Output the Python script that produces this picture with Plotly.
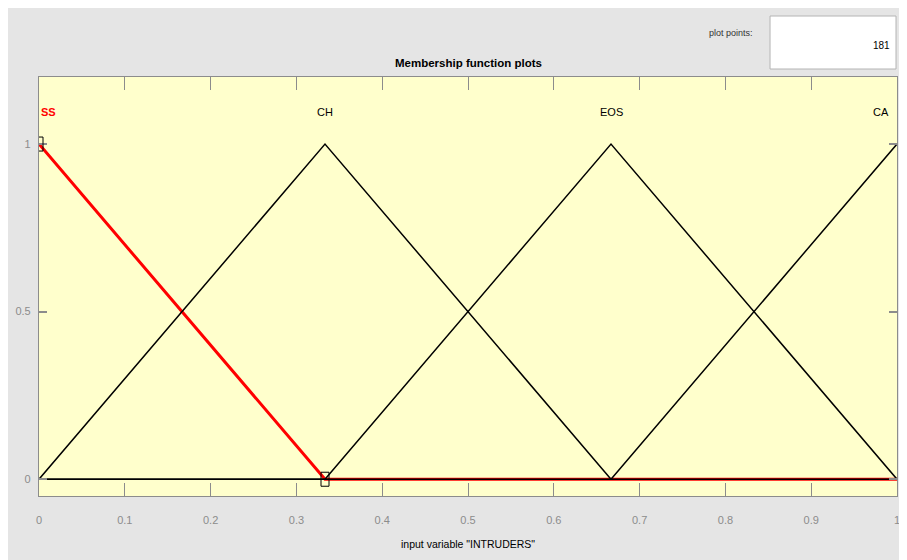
import plotly.graph_objects as go

# Membership function vertices (input variable "INTRUDERS", range [0, 1])
mf_names = ["SS", "CH", "EOS", "CA"]
ss_x = [0, 1/3, 1]
ss_y = [1, 0, 0]
ch_x = [0, 1/3, 2/3, 1]
ch_y = [0, 1, 0, 0]
eos_x = [0, 1/3, 2/3, 1]
eos_y = [0, 0, 1, 0]
ca_x = [0, 2/3, 1]
ca_y = [0, 0, 1]
label_x = [0, 1/3, 2/3, 1]
x_ticks = [0, 0.1, 0.2, 0.3, 0.4, 0.5, 0.6, 0.7, 0.8, 0.9, 1]
x_tick_text = ["0", "0.1", "0.2", "0.3", "0.4", "0.5", "0.6", "0.7", "0.8", "0.9", "1"]
y_ticks = [0, 0.5, 1]
y_tick_text = ["0", "0.5", "1"]
ss_marker_x = [0, 1/3]
ss_marker_y = [1, 0]
plot_points = "181"

FONT = "Liberation Sans, Arial, sans-serif"
OFF = 8  # page body margin
W, H = 899, 552
L, R, T, B = 27, 7, 69, 64
pw, ph = W - L - R, H - T - B

def px(x):
    return (x - OFF - L) / pw

def py(y):
    return (H - B - (y - OFF)) / ph

fig = go.Figure()
fig.add_trace(go.Scatter(x=ss_x, y=ss_y, mode="lines",
                         line=dict(color="#ff0000", width=3), hoverinfo="skip"))
for xs, ys in [(ch_x, ch_y), (eos_x, eos_y), (ca_x, ca_y)]:
    fig.add_trace(go.Scatter(x=xs, y=ys, mode="lines",
                             line=dict(color="#000000", width=1.5), hoverinfo="skip"))

# MF labels
for i, name in enumerate(mf_names):
    anchor = "left" if i == 0 else ("right" if i == len(mf_names) - 1 else "center")
    fig.add_annotation(x=label_x[i], y=1.095,
                       text=("<b>%s</b>" % name) if i == 0 else name,
                       showarrow=False, xanchor=anchor, yanchor="middle",
                       xshift=(-6 if anchor == "right" else 0),
                       font=dict(family=FONT, size=11,
                                 color="#ff0000" if i == 0 else "#000000"))

shapes = [
    dict(type="rect", xref="paper", yref="paper", x0=px(772), x1=px(899), y0=py(16), y1=py(69),
         fillcolor="#ffffff", line=dict(width=1, color="#b4b4b4")),
]
# selected-MF vertex markers (tall squares, as in the stretched original)
for mx, my in zip(ss_marker_x, ss_marker_y):
    shapes.append(dict(type="rect", xref="x", yref="y",
                       xsizemode="pixel", ysizemode="pixel",
                       xanchor=mx, yanchor=my, x0=-4, x1=4, y0=-7, y1=7,
                       line=dict(color="#000000", width=1), fillcolor="rgba(0,0,0,0)"))
fig.update_layout(shapes=shapes)

fig.add_annotation(xref="paper", yref="paper", x=px(757), y=py(33), text="plot points:",
                   showarrow=False, xanchor="right", yanchor="middle",
                   font=dict(family=FONT, size=9, color="#333333"))
fig.add_annotation(xref="paper", yref="paper", x=px(895), y=py(46), text=plot_points,
                   showarrow=False, xanchor="right", yanchor="middle",
                   font=dict(family=FONT, size=10, color="#000000"))
fig.add_annotation(xref="paper", yref="paper", x=px(468), y=py(63),
                   text="<b>Membership function plots</b>",
                   showarrow=False, xanchor="center", yanchor="middle",
                   font=dict(family=FONT, size=11.5, color="#000000"))
fig.add_annotation(xref="paper", yref="paper", x=px(468), y=py(544),
                   text='input variable "INTRUDERS"',
                   showarrow=False, xanchor="center", yanchor="middle",
                   font=dict(family=FONT, size=10.5, color="#000000"))

fig.update_xaxes(range=[0, 1], tickvals=x_ticks, ticktext=x_tick_text,
                 ticks="inside", ticklen=13, tickcolor="#8c8c8c", tickwidth=1.2,
                 showgrid=False, zeroline=False, showline=True, linecolor="#8c8c8c",
                 linewidth=1.2, mirror="ticks", ticklabelstandoff=14,
                 tickfont=dict(family=FONT, size=11, color="#8c8c8c"))
fig.update_yaxes(range=[-0.05, 1.2], tickvals=y_ticks, ticktext=y_tick_text,
                 ticks="inside", ticklen=8, tickcolor="#8c8c8c", tickwidth=1.5,
                 showgrid=False, zeroline=False, showline=True, linecolor="#8c8c8c",
                 linewidth=1.2, mirror="ticks", ticklabelstandoff=5,
                 tickfont=dict(family=FONT, size=11, color="#8c8c8c"))

fig.update_layout(width=W, height=H, margin=dict(l=L, r=R, t=T, b=B),
                  paper_bgcolor="#e5e5e5", plot_bgcolor="#ffffcc",
                  showlegend=False)

fig.write_html("out.html")
